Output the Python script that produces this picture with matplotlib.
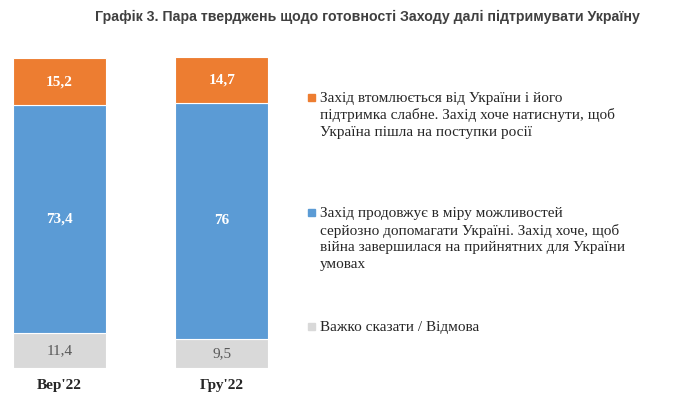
import matplotlib
matplotlib.use("Agg")
import matplotlib.pyplot as plt

categories = ["Вер'22", "Гру'22"]
gray_vals = [11.4, 9.5]
blue_vals = [73.4, 76.0]
orange_vals = [15.2, 14.7]
gray_labels = ["11,4", "9,5"]
blue_labels = ["73,4", "76"]
orange_labels = ["15,2", "14,7"]
legend_texts = [
    ["Захід втомлюється від України і його",
     "підтримка слабне. Захід хоче натиснути, щоб",
     "Україна пішла на поступки росії"],
    ["Захід продовжує в міру можливостей",
     "серйозно допомагати Україні. Захід хоче, щоб",
     "війна завершилася на прийнятних для України",
     "умовах"],
    ["Важко сказати / Відмова"],
]
title = "Графік 3. Пара тверджень щодо готовності Заходу далі підтримувати Україну"

c_orange = "#ED7D31"
c_blue = "#5B9BD5"
c_gray = "#D9D9D9"

W, H = 690, 399
fig = plt.figure(figsize=(W / 100, H / 100), dpi=100)
ax = fig.add_axes([13 / W, 31 / H, 255 / W, 310 / H])
x = [0, 1]
bw = 0.572
ax.bar(x, gray_vals, width=bw, color=c_gray, edgecolor="white", linewidth=0.8)
ax.bar(x, blue_vals, width=bw, bottom=gray_vals, color=c_blue, edgecolor="white", linewidth=0.8)
b2 = [g + b for g, b in zip(gray_vals, blue_vals)]
ax.bar(x, orange_vals, width=bw, bottom=b2, color=c_orange, edgecolor="white", linewidth=0.8)
ax.set_xlim(-0.285, 1.285)
ax.set_ylim(0, 100)
ax.axis("off")

serif = "Liberation Serif"
for i in x:
    ax.text(i, gray_vals[i] / 2, gray_labels[i], ha="center", va="center",
            fontsize=11, family=serif, color="#595959")
    ax.text(i, gray_vals[i] + blue_vals[i] / 2, blue_labels[i], ha="center", va="center",
            fontsize=11, family=serif, color="white", fontweight="bold")
    ax.text(i, b2[i] + orange_vals[i] / 2, orange_labels[i], ha="center", va="center",
            fontsize=11, family=serif, color="white", fontweight="bold")
    ax.text(i, -5.5, categories[i], ha="center", va="center", fontsize=11, family=serif,
            fontweight="bold", color="#262626")

fig.text(367 / W, 1 - 17 / H, title, ha="center", va="center", fontsize=10.2,
         family="Liberation Sans", fontweight="bold", color="#404040")

leg_colors = [c_orange, c_blue, c_gray]
leg_y = [97, 212, 326]
for col, ty, lines in zip(leg_colors, leg_y, legend_texts):
    fig.patches.append(plt.Rectangle(((312 - 4) / W, 1 - (ty + 4) / H), 7 / W, 7 / H,
                                     transform=fig.transFigure, color=col, figure=fig))
    for j, line in enumerate(lines):
        fig.text(320 / W, 1 - (ty + 17 * j) / H, line, ha="left", va="center_baseline",
                 fontsize=11, family=serif, color="#262626")

fig.savefig("out.png", dpi=100, facecolor="white")
